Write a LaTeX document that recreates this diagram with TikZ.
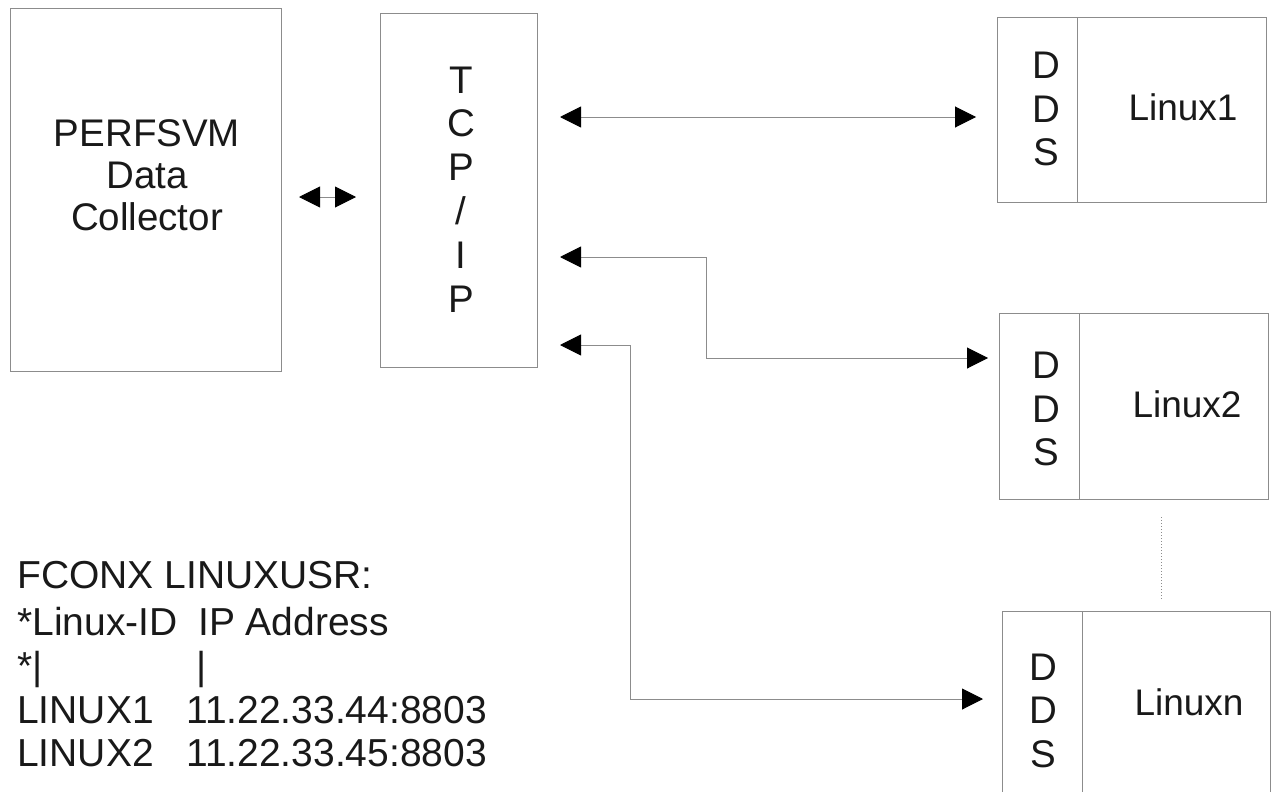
\documentclass[tikz,border=0pt]{standalone}
\usepackage{fontspec}
\setmainfont{Liberation Sans}
\usetikzlibrary{arrows.meta}
\definecolor{linegray}{gray}{0.55}
\definecolor{ink}{gray}{0.1}
\tikzset{
  box/.style={draw=linegray, line width=1pt, fill=none, inner sep=0pt, anchor=north west},
  lbl/.style={inner sep=0pt, anchor=base, text=ink, font=\fontsize{38.5}{44}\selectfont},
  lbll/.style={inner sep=0pt, anchor=base west, text=ink, font=\fontsize{39}{44}\selectfont},
  namelbl/.style={inner sep=0pt, anchor=base, text=ink, font=\fontsize{37}{44}\selectfont},
  conn/.style={draw=linegray, line width=1pt, {Triangle[length=21pt,width=21pt,color=black]}-{Triangle[length=21pt,width=21pt,color=black]}},
}
\begin{document}
\begin{tikzpicture}[x=1pt,y=-1pt]
\clip (0,0) rectangle (1271,792);
\fill[white] (0,0) rectangle (1271,792);

% main boxes
\node[box, minimum width=271pt, minimum height=363pt] (perf) at (10,8) {};
\node[lbl] (p1) at (147,146) {PERFSVM};
\node[lbl] (p2) at (147,188) {Data};
\node[lbl] (p3) at (147,230) {Collector};

\node[box, minimum width=157pt, minimum height=354pt] (tcp) at (380,13) {};
\node[lbl] (t1) at (461,93) {T};
\node[lbl] (t2) at (461,136.8) {C};
\node[lbl] (t3) at (461,180.6) {P};
\node[lbl] (t4) at (461,224.4) {/};
\node[lbl] (t5) at (461,268.2) {I};
\node[lbl] (t6) at (461,312) {P};

% Linux1
\node[box, minimum width=80pt, minimum height=185pt] (l1) at (997,17) {};
\node[box, minimum width=189pt, minimum height=185pt] (l1n) at (1077,17) {};
\node[lbl] (l1a) at (1046,78) {D};
\node[lbl] (l1b) at (1046,122) {D};
\node[lbl] (l1c) at (1046,165) {S};
\node[namelbl] (l1t) at (1183,120) {Linux1};

% Linux2
\node[box, minimum width=80pt, minimum height=186pt] (l2) at (999,313) {};
\node[box, minimum width=189pt, minimum height=186pt] (l2n) at (1079,313) {};
\node[lbl] (l2a) at (1046,378) {D};
\node[lbl] (l2b) at (1046,422) {D};
\node[lbl] (l2c) at (1046,465) {S};
\node[namelbl] (l2t) at (1187,417) {Linux2};

% Linuxn
\node[box, minimum width=80pt, minimum height=220pt] (ln) at (1002,611) {};
\node[box, minimum width=188pt, minimum height=220pt] (lnn) at (1082,611) {};
\node[lbl] (lna) at (1043,680) {D};
\node[lbl] (lnb) at (1043,723) {D};
\node[lbl] (lnc) at (1043,767) {S};
\node[namelbl] (lnt) at (1189,715) {Linuxn};

% dotted continuation
\coordinate (d1) at (1161,517);
\coordinate (d2) at (1161,599);
\draw[linegray, line width=1pt, dotted] (d1) -- (d2);

% connectors
\coordinate (y0) at (0,197);
\coordinate (y1) at (0,117);
\coordinate (y2) at (0,257);
\coordinate (y3) at (0,345);
\coordinate (b2) at (706,358);
\coordinate (b3) at (630,699);
\draw[conn, shorten <=17pt, shorten >=24pt] (perf.east |- y0) -- (tcp.west |- y0);
\draw[conn, shorten <=22pt, shorten >=21pt] (tcp.east |- y1) -- (l1.west |- y1);
\draw[conn, shorten <=22pt, shorten >=11pt] (tcp.east |- y2) -| (b2) -- (l2.west |- b2);
\draw[conn, shorten <=22pt, shorten >=19pt] (tcp.east |- y3) -| (b3) -- (ln.west |- b3);

% text block
\node[lbll] (f0) at (17,588) {FCONX LINUXUSR:};
\node[lbll] (f1a) at (17,635) {*Linux-ID};
\node[lbll] (f1b) at (198,635) {IP Address};
\node[lbll] (f2a) at (17,679) {*|};
\node[lbll] (f2b) at (196,679) {|};
\node[lbll] (f3a) at (17,723) {LINUX1};
\node[lbll] (f3b) at (186,723) {11.22.33.44:8803};
\node[lbll] (f4a) at (17,766) {LINUX2};
\node[lbll] (f4b) at (186,766) {11.22.33.45:8803};
\end{tikzpicture}
\end{document}
